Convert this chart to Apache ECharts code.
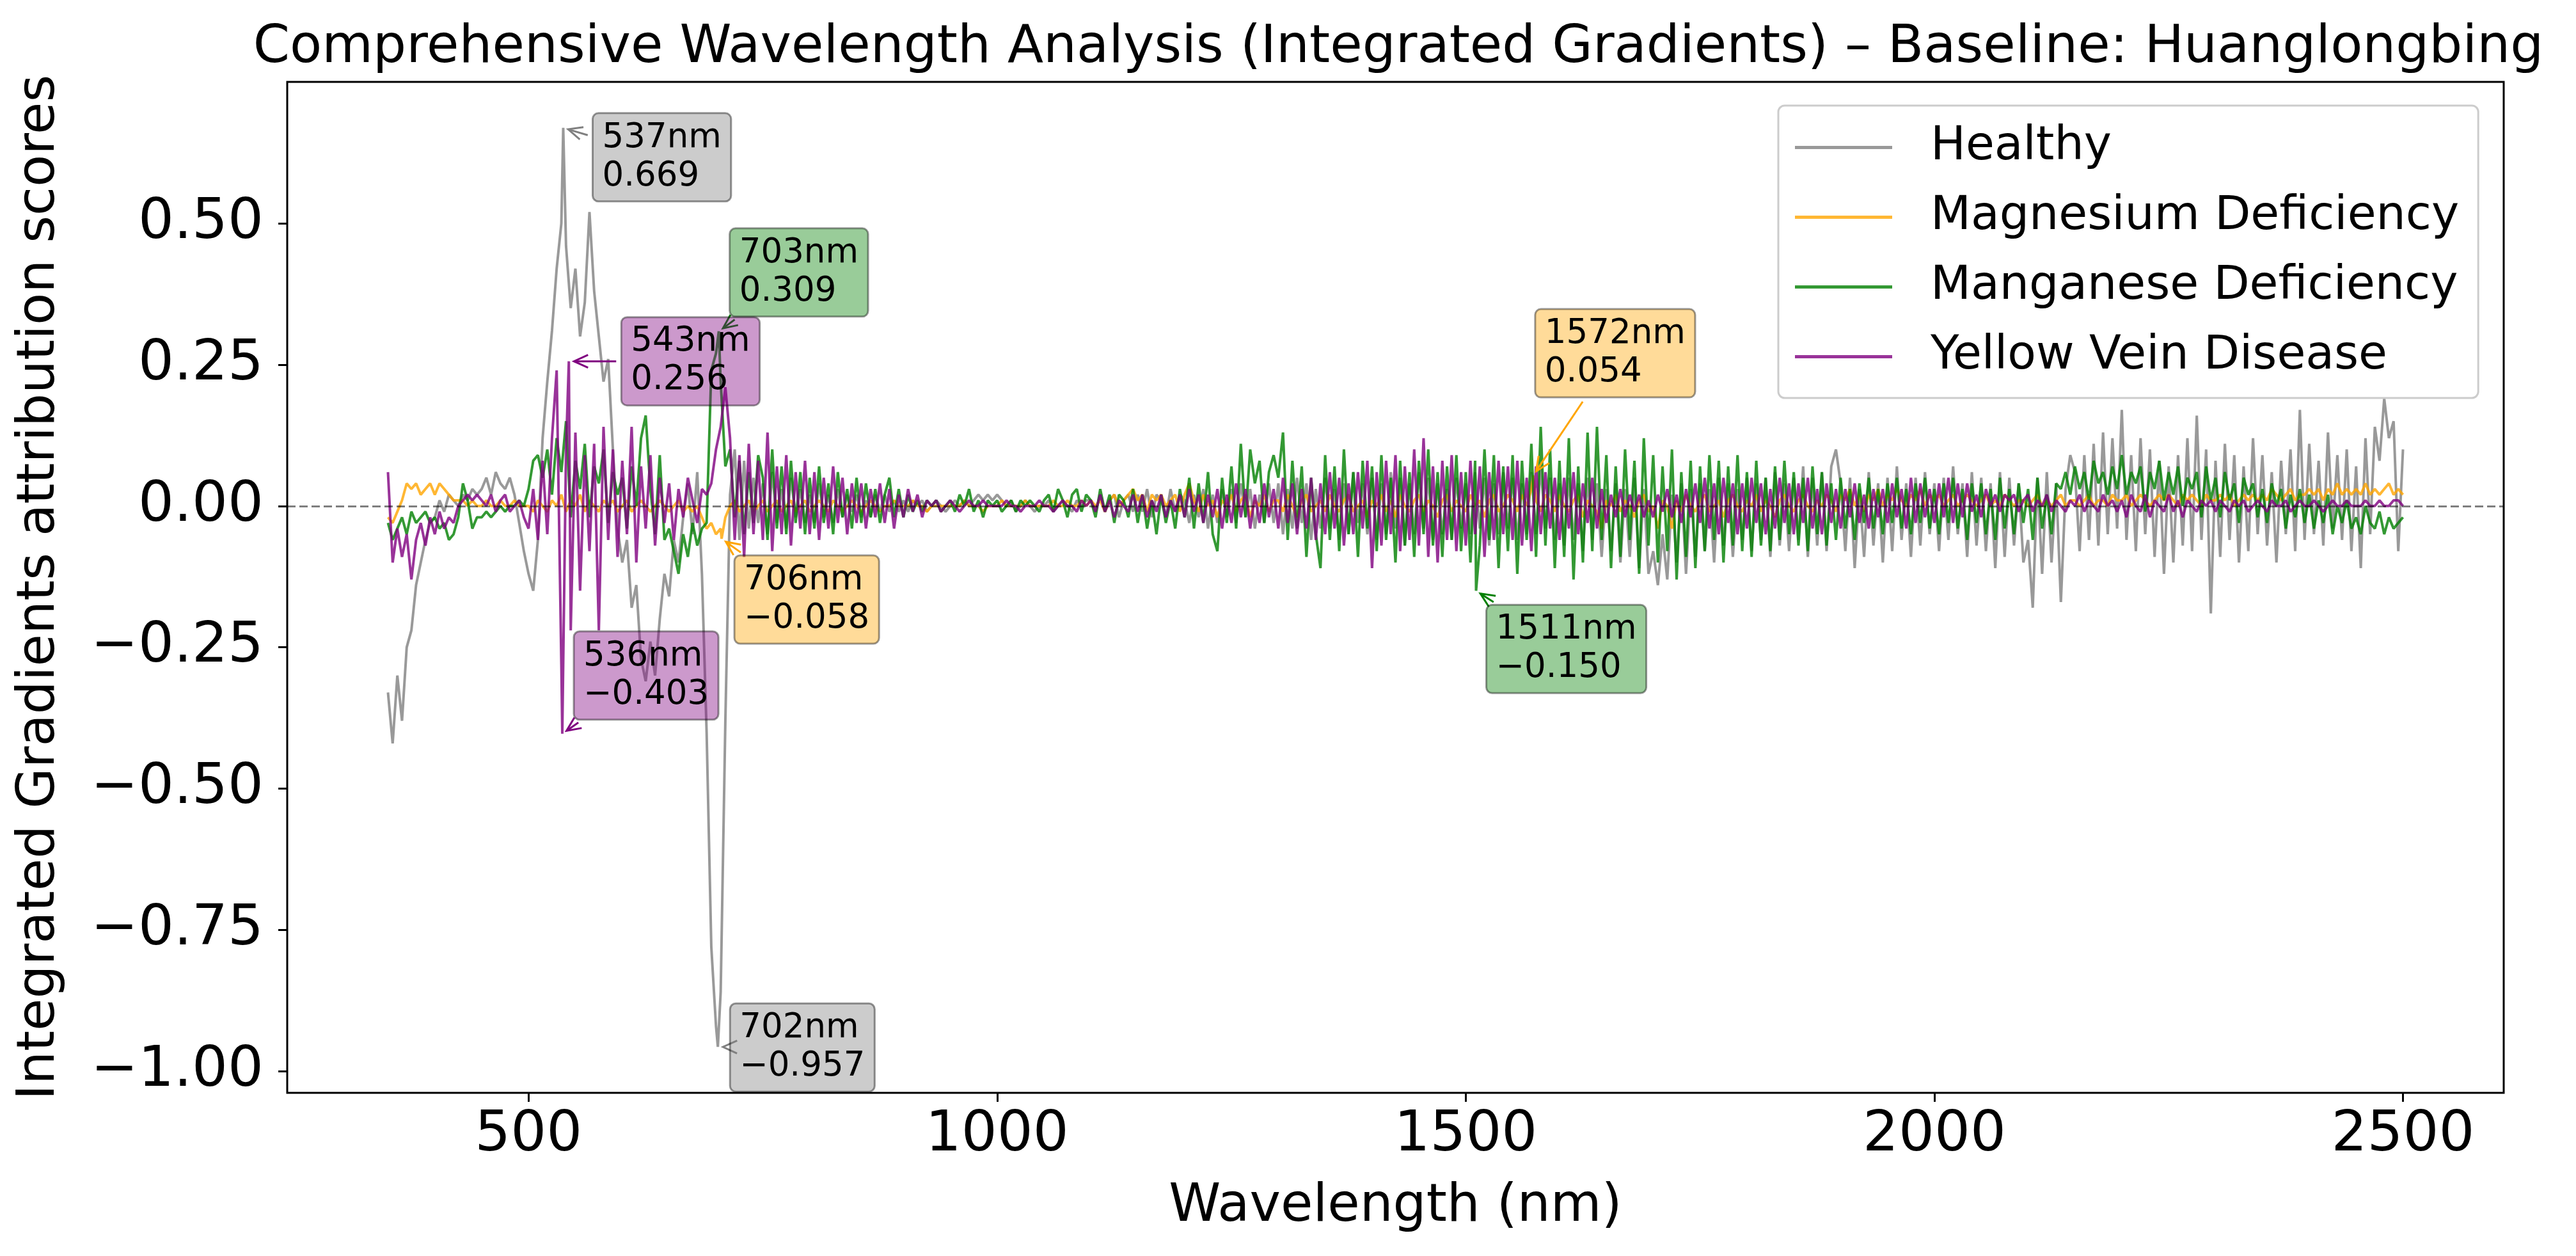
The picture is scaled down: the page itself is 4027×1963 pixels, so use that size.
<!DOCTYPE html>
<html><head><meta charset="utf-8">
<script src="https://cdn.jsdelivr.net/npm/echarts@6/dist/echarts.min.js"></script>
<style>html,body{margin:0;padding:0;background:#fff}#chart{width:4027px;height:1963px}</style>
</head><body><div id="chart"></div>
<script>
// ---------------- DATA ----------------
const wavelengths = [];
for (let w = 350; w <= 2500; w += 5) wavelengths.push(w);

const healthy = [
-0.33,-0.42,-0.30,-0.38,-0.25,-0.22,-0.14,-0.10,-0.06,-0.03,
-0.02,0.01,-0.01,0.02,0.01,0.00,0.02,0.01,0.03,0.02,
0.03,0.05,0.02,0.06,0.04,0.03,0.05,0.02,-0.03,-0.08,
-0.12,-0.15,-0.06,0.12,0.22,0.31,0.42,0.50,0.46,0.35,
0.42,0.30,0.36,0.52,0.38,0.30,0.22,0.26,0.10,-0.04,
-0.10,-0.06,-0.18,-0.14,-0.27,-0.31,-0.24,-0.30,-0.20,-0.12,
-0.16,-0.06,-0.10,-0.02,0.04,-0.05,0.06,-0.12,-0.40,-0.78,
-0.92,-0.86,-0.38,0.02,0.10,-0.06,0.08,-0.04,0.05,-0.03,
0.04,-0.05,0.06,-0.03,0.03,-0.04,0.05,-0.02,0.03,-0.03,
0.02,-0.03,0.04,-0.02,0.02,-0.03,0.03,-0.02,0.02,-0.01,
0.02,-0.02,0.01,-0.02,0.02,-0.01,0.02,-0.01,0.01,-0.01,
0.01,-0.01,0.01,0.00,0.01,-0.01,0.00,0.01,0.00,-0.01,
0.00,0.01,0.00,0.01,0.00,0.01,0.02,0.01,0.02,0.01,
0.02,0.01,0.00,0.01,-0.01,0.00,0.01,0.00,-0.01,0.00,
0.00,0.01,-0.01,0.00,0.01,0.00,-0.01,0.01,0.00,0.01,
0.01,-0.01,0.02,-0.01,0.01,0.02,-0.02,0.01,0.02,-0.01,
0.02,-0.01,0.03,-0.02,0.02,0.01,-0.02,0.03,-0.01,0.02,
0.01,-0.03,0.02,-0.02,0.03,-0.04,0.02,-0.03,0.03,-0.02,
0.03,-0.03,0.04,-0.02,0.03,-0.04,0.02,-0.03,0.04,-0.03,
0.04,-0.05,0.03,-0.04,0.05,-0.03,0.04,-0.06,0.03,-0.04,
0.05,-0.04,0.03,-0.06,0.04,-0.05,0.06,-0.03,0.04,-0.05,
0.05,-0.06,0.04,-0.05,0.06,-0.04,0.05,-0.07,0.04,-0.05,
0.06,-0.04,0.05,-0.06,0.04,-0.05,0.03,-0.06,0.05,-0.04,
0.04,-0.05,0.06,-0.04,0.05,-0.07,0.04,-0.05,0.06,-0.04,
0.05,-0.06,0.04,-0.05,0.06,-0.05,0.07,-0.04,0.05,-0.06,
0.04,-0.07,0.05,-0.06,0.04,-0.08,0.05,-0.06,0.04,-0.09,
0.03,-0.08,0.04,-0.10,0.03,-0.09,0.05,-0.11,0.03,-0.12,
-0.08,-0.14,-0.05,-0.13,0.02,-0.10,0.04,-0.12,0.03,-0.09,
0.04,-0.08,0.03,-0.10,0.05,-0.07,0.04,-0.09,0.03,-0.06,
0.05,-0.08,0.04,-0.06,0.05,-0.09,0.06,-0.07,0.04,-0.08,
0.05,-0.06,0.07,-0.09,0.05,-0.07,0.06,-0.08,0.07,0.10,
0.04,-0.08,0.05,-0.11,0.03,-0.09,0.06,-0.07,0.04,-0.10,
0.05,-0.08,0.07,-0.06,0.04,-0.09,0.05,-0.07,0.06,-0.05,
0.04,-0.08,0.05,-0.06,0.07,-0.05,0.04,-0.09,0.06,-0.07,
0.05,-0.08,0.04,-0.11,0.06,-0.09,0.05,-0.07,0.04,-0.10,
-0.06,-0.18,0.05,-0.12,0.06,-0.10,0.04,-0.17,0.03,0.09,
0.06,-0.08,0.09,-0.06,0.11,-0.07,0.13,-0.05,0.12,-0.04,
0.17,-0.06,0.09,-0.08,0.12,-0.05,0.10,-0.09,0.08,-0.12,
0.07,-0.10,0.09,-0.07,0.12,-0.08,0.16,-0.06,0.10,-0.19,
0.08,-0.09,0.11,-0.06,0.09,-0.10,0.07,-0.08,0.12,-0.05,
0.09,-0.07,0.06,-0.10,0.08,-0.05,0.10,-0.08,0.17,-0.06,
0.11,-0.05,0.08,-0.07,0.13,-0.04,0.09,-0.06,0.10,-0.08,
0.07,-0.11,0.12,-0.05,0.14,0.08,0.19,0.12,0.15,-0.08,
0.10
];

const magnesium = [
-0.02,-0.03,-0.01,0.01,0.04,0.03,0.04,0.02,0.03,0.04,
0.02,0.04,0.03,0.02,0.01,0.01,0.01,0.00,0.01,0.00,
0.00,0.01,0.00,0.00,0.01,0.00,0.00,0.01,0.00,0.00,
0.00,-0.01,0.01,0.00,-0.01,0.01,0.00,0.02,-0.01,0.01,
0.00,0.02,-0.01,0.01,0.00,-0.01,0.01,0.00,0.01,-0.01,
0.00,0.01,-0.01,0.00,0.01,0.00,-0.01,0.00,0.01,0.00,
-0.01,0.00,0.01,-0.01,0.00,-0.01,0.00,-0.02,-0.04,-0.03,
-0.05,-0.04,-0.02,0.00,0.01,-0.01,0.00,0.01,-0.01,0.00,
0.01,-0.01,0.00,0.01,-0.01,0.00,0.01,-0.01,0.00,0.01,
-0.01,0.00,0.01,0.00,-0.01,0.01,0.00,-0.01,0.00,0.01,
0.00,-0.01,0.00,0.01,0.00,-0.01,0.00,0.00,0.01,0.00,
0.00,0.00,0.01,0.00,0.00,-0.01,0.00,0.00,0.00,0.00,
0.00,0.00,0.00,0.01,0.00,0.00,0.00,-0.01,0.00,0.00,
0.00,0.01,0.00,0.00,0.00,0.00,0.01,0.00,0.00,0.00,
0.00,0.00,0.01,0.00,0.00,0.01,0.00,0.00,0.01,0.00,
0.01,0.00,0.01,-0.01,0.01,0.02,0.00,0.01,0.02,0.03,
0.01,0.02,-0.01,0.02,0.01,0.02,0.00,0.01,0.02,-0.01,
0.02,0.04,0.01,-0.01,0.02,0.00,0.01,-0.02,0.01,0.00,
0.02,-0.01,0.01,0.02,-0.02,0.01,0.00,0.02,-0.01,0.01,
0.01,-0.01,0.02,0.00,-0.02,0.01,0.02,-0.01,0.00,0.01,
-0.01,0.02,0.00,-0.01,0.01,0.02,-0.01,0.00,0.01,-0.02,
0.01,0.00,0.02,-0.01,0.01,-0.02,0.02,0.00,-0.01,0.01,
0.02,-0.01,0.01,0.00,-0.02,0.01,0.02,-0.01,0.01,0.00,
-0.01,0.02,0.00,0.01,-0.02,0.01,0.02,-0.01,0.00,0.02,
0.01,-0.01,0.02,0.00,0.03,0.01,-0.01,0.02,0.01,-0.01,
0.02,0.00,-0.01,0.01,0.02,-0.02,0.01,0.00,-0.01,-0.04,
0.01,0.00,0.02,-0.01,0.01,0.00,-0.02,0.01,0.02,-0.01,
0.00,-0.04,0.01,0.00,-0.04,0.01,-0.01,0.02,0.00,-0.01,
0.01,0.02,-0.01,0.00,0.01,-0.02,0.01,0.02,0.00,-0.01,
0.01,0.00,0.02,-0.01,0.01,0.00,-0.02,0.01,0.02,0.00,
-0.01,0.01,0.02,0.00,-0.01,0.01,0.00,0.02,0.01,-0.01,
0.02,0.01,0.03,0.00,0.02,-0.01,0.02,0.01,0.03,0.00,
0.02,0.01,0.03,0.01,0.00,0.02,0.01,0.03,0.00,0.02,
0.01,0.02,0.00,0.01,0.02,0.00,0.01,0.02,0.01,0.00,
0.01,0.02,0.00,0.01,0.00,0.02,0.01,0.00,0.01,0.01,
0.00,0.01,0.02,0.00,0.01,0.00,0.01,0.02,0.00,0.01,
0.01,0.00,0.01,0.02,0.00,0.01,0.01,0.00,0.02,0.01,
0.01,0.02,0.00,0.01,0.02,0.01,0.00,0.01,0.02,0.01,
0.02,0.01,0.00,0.02,0.01,0.02,0.01,0.00,0.02,0.01,
0.01,0.02,0.01,0.02,0.00,0.01,0.02,0.01,0.02,0.01,
0.02,0.01,0.03,0.02,0.01,0.02,0.03,0.01,0.02,0.02,
0.03,0.02,0.03,0.01,0.03,0.02,0.04,0.02,0.03,0.02,
0.03,0.02,0.04,0.02,0.03,0.02,0.03,0.04,0.02,0.03,
0.02
];

const manganese = [
-0.03,-0.06,-0.04,-0.02,-0.05,-0.01,-0.03,-0.02,-0.01,-0.03,
-0.02,-0.04,-0.03,-0.06,-0.05,-0.02,0.04,0.01,-0.04,-0.02,
-0.02,-0.01,-0.02,-0.01,0.00,-0.01,0.00,0.00,0.01,0.00,
0.03,0.08,0.09,0.05,0.10,0.02,0.12,0.06,0.15,-0.02,
0.08,0.03,0.11,-0.02,0.07,0.04,0.10,-0.03,0.06,0.02,
0.05,-0.04,0.07,0.00,0.12,0.16,0.03,-0.05,0.09,-0.06,
-0.04,-0.08,-0.12,-0.05,-0.09,-0.03,-0.07,-0.04,-0.03,0.24,
0.27,0.22,0.07,0.10,-0.02,0.08,-0.05,0.06,-0.03,0.09,
0.05,-0.06,0.10,-0.04,0.07,-0.05,0.08,-0.03,0.06,-0.05,
0.05,-0.04,0.07,-0.03,0.04,-0.05,0.06,-0.02,0.03,-0.04,
0.05,-0.03,0.04,-0.02,0.03,-0.03,0.02,0.05,-0.02,0.03,
-0.02,0.02,-0.01,0.01,-0.01,0.01,0.00,0.01,-0.01,0.00,
0.01,-0.01,0.02,0.00,0.03,-0.01,0.01,-0.02,0.01,0.00,
0.01,-0.01,0.00,0.01,-0.01,0.01,0.00,0.01,0.00,-0.01,
0.01,0.02,-0.01,0.03,0.01,-0.02,0.02,0.03,-0.01,0.02,
0.01,-0.02,0.03,-0.01,0.02,-0.03,0.02,0.01,-0.02,0.03,
-0.03,0.02,-0.04,0.01,-0.05,0.02,-0.03,0.01,-0.04,0.03,
-0.02,0.05,-0.04,0.04,-0.03,0.06,-0.05,-0.08,0.05,-0.03,
0.07,-0.04,0.11,-0.02,0.10,0.04,0.08,-0.03,0.06,0.09,
0.05,0.13,-0.06,0.08,-0.04,0.07,-0.09,0.05,-0.05,-0.11,
0.09,-0.06,0.07,-0.08,0.10,-0.05,0.06,-0.09,0.08,-0.04,
0.07,-0.08,0.09,-0.06,0.05,-0.10,0.08,-0.07,0.06,-0.09,
0.08,-0.05,0.10,-0.07,0.06,-0.09,0.07,-0.06,0.09,-0.08,
0.06,-0.10,0.08,-0.07,0.10,-0.06,0.09,-0.11,0.07,-0.08,
0.09,-0.12,0.08,-0.06,0.11,-0.09,0.14,-0.07,0.10,-0.11,
0.08,-0.09,0.12,-0.13,0.07,-0.10,0.13,-0.08,0.14,-0.06,
0.09,-0.11,0.07,-0.09,0.10,-0.06,0.08,-0.12,0.12,-0.07,
0.09,-0.10,0.07,-0.08,0.10,-0.13,0.06,-0.09,0.08,-0.11,
0.07,-0.08,0.09,-0.06,0.08,-0.10,0.07,-0.07,0.09,-0.08,
0.06,-0.09,0.08,-0.07,0.05,-0.08,0.07,-0.06,0.08,-0.05,
0.06,-0.07,0.05,-0.08,0.07,-0.05,0.06,-0.07,0.04,-0.06,
0.05,-0.04,0.03,-0.06,0.04,-0.03,0.05,-0.04,0.03,-0.05,
0.04,-0.03,0.05,-0.04,0.03,-0.05,0.04,-0.03,0.05,-0.04,
0.03,-0.05,0.04,-0.03,0.05,-0.04,0.03,-0.06,0.04,-0.03,
0.04,-0.05,0.03,-0.06,0.05,-0.04,0.03,-0.05,0.04,-0.03,
0.03,-0.06,0.05,-0.04,0.02,-0.05,0.04,0.03,0.06,0.02,
0.07,0.03,0.06,0.01,0.08,0.04,0.06,0.02,0.07,0.03,
0.09,0.02,0.06,0.04,0.07,-0.01,0.06,0.03,0.08,0.01,
0.06,0.02,0.07,0.00,0.05,0.03,0.06,-0.02,0.07,0.01,
0.05,-0.02,0.06,0.01,0.04,-0.03,0.05,0.02,0.04,-0.02,
0.03,-0.03,0.04,0.00,0.03,-0.04,0.02,-0.02,0.03,-0.03,
0.02,-0.04,0.01,-0.03,0.02,-0.05,0.00,-0.03,0.01,-0.04,
-0.02,-0.05,0.00,-0.03,-0.04,-0.01,-0.05,-0.02,-0.04,-0.03,
-0.02
];

const yellowVein = [
0.06,-0.10,-0.04,-0.09,-0.05,-0.13,-0.06,-0.03,-0.07,-0.02,
-0.05,-0.01,-0.04,-0.02,-0.03,0.00,0.01,0.02,0.01,0.02,
0.01,0.00,0.02,-0.01,0.01,0.02,-0.01,0.00,0.01,-0.02,
-0.04,0.03,-0.06,0.08,-0.05,0.12,0.24,-0.28,0.10,-0.22,
0.13,-0.15,0.09,-0.08,0.11,-0.22,0.14,-0.06,0.10,-0.09,
0.08,-0.05,0.14,-0.10,0.07,-0.04,0.09,-0.07,0.05,-0.03,
0.04,-0.06,0.03,-0.02,0.05,0.01,-0.03,0.03,0.02,0.04,
0.10,0.14,0.21,0.12,-0.06,0.09,-0.09,0.11,-0.05,0.08,
-0.06,0.13,-0.08,0.07,-0.05,0.09,-0.07,0.06,-0.04,0.08,
-0.05,0.06,-0.06,0.05,-0.04,0.07,-0.03,0.05,-0.05,0.04,
-0.03,0.04,-0.04,0.03,-0.02,0.04,-0.03,0.03,-0.04,0.02,
-0.02,0.03,-0.01,0.02,-0.02,0.01,0.00,0.01,-0.01,0.00,
0.01,0.00,-0.01,0.00,0.01,0.00,0.00,0.01,0.00,0.00,
0.00,0.00,0.01,0.00,0.00,-0.01,0.00,0.00,0.00,0.01,
0.00,0.00,-0.01,0.00,0.01,0.00,0.00,-0.01,0.01,0.00,
0.01,-0.01,0.02,-0.01,0.01,-0.02,0.01,0.00,-0.01,0.02,
-0.01,0.02,-0.02,0.01,-0.01,0.02,-0.02,0.01,-0.01,0.02,
-0.02,0.03,-0.01,0.02,-0.03,0.02,-0.02,0.03,-0.04,0.02,
-0.03,0.04,-0.02,0.03,-0.04,0.02,-0.03,0.04,-0.02,0.03,
-0.04,0.05,-0.03,0.04,-0.05,0.03,-0.04,0.05,-0.06,0.04,
-0.05,0.06,-0.04,0.05,-0.07,0.04,-0.05,0.06,-0.04,0.08,
-0.11,0.06,-0.07,0.08,-0.05,0.09,-0.08,0.07,-0.06,0.10,
-0.07,0.12,-0.09,0.07,-0.10,0.08,-0.06,0.09,-0.08,0.06,
-0.07,0.08,-0.05,0.07,-0.09,0.06,-0.06,0.08,-0.05,0.07,
-0.06,0.08,-0.07,0.05,-0.08,0.07,-0.05,0.06,-0.04,0.05,
-0.06,0.05,-0.04,0.06,-0.05,0.04,-0.03,0.05,-0.04,0.03,
-0.03,0.02,-0.02,0.03,-0.02,0.02,-0.01,0.02,-0.02,0.01,
-0.02,0.02,-0.01,0.03,-0.02,0.02,-0.03,0.03,-0.02,0.04,
-0.03,0.05,-0.04,0.04,-0.05,0.05,-0.03,0.04,-0.05,0.04,
-0.04,0.05,-0.03,0.04,-0.05,0.03,-0.04,0.05,-0.03,0.04,
-0.05,0.04,-0.03,0.05,-0.04,0.03,-0.05,0.04,-0.03,0.03,
-0.04,0.03,-0.02,0.04,-0.03,0.02,-0.04,0.03,-0.02,0.03,
-0.03,0.04,-0.02,0.03,-0.04,0.05,-0.03,0.04,-0.02,0.03,
-0.03,0.04,-0.02,0.05,-0.03,0.04,-0.02,0.04,-0.01,0.02,
-0.02,0.03,0.00,0.02,-0.01,0.02,0.01,0.02,-0.01,0.01,
0.02,-0.01,0.01,0.00,0.02,-0.01,0.01,0.00,-0.01,0.01,
0.00,0.02,-0.01,0.01,0.00,-0.01,0.02,0.00,0.01,-0.01,
0.01,-0.02,0.02,0.00,-0.01,0.02,-0.02,0.01,0.00,-0.01,
0.02,-0.01,0.01,-0.02,0.01,0.00,-0.01,0.01,0.00,0.01,
-0.01,0.01,0.00,-0.01,0.01,0.00,0.01,-0.01,0.00,0.01,
0.00,-0.01,0.01,0.00,0.00,0.01,-0.01,0.00,0.01,0.00,
0.00,0.01,0.00,-0.01,0.00,0.01,0.00,0.00,0.01,0.00,
0.00,0.00,0.01,0.00,0.00,0.01,0.00,0.00,0.01,0.01,
0.00
];

const seriesNames = ['Healthy', 'Magnesium Deficiency', 'Manganese Deficiency', 'Yellow Vein Disease'];
const seriesValues = [healthy, magnesium, manganese, yellowVein];

// annotated extremes (series index, wavelength, value)
const annSeries = [0, 0, 1, 1, 2, 2, 3, 3];
const annNm     = [537, 702, 706, 1572, 703, 1511, 543, 536];
const annValue  = [0.669, -0.957, -0.058, 0.054, 0.309, -0.150, 0.256, -0.403];

const xTicks = [500, 1000, 1500, 2000, 2500];
const yTicks = [-1.00, -0.75, -0.50, -0.25, 0.00, 0.25, 0.50];

// ---------------- STYLE / LAYOUT ----------------
const FONT = 'DejaVu Sans';
const baseRGB = [[128,128,128],[255,165,0],[0,128,0],[128,0,128]];
const rgba = (c, a) => `rgba(${c[0]},${c[1]},${c[2]},${a})`;
// annotation box top-left offset from the annotated point (px)
const annBoxOffset = [[46,-23],[19,-68],[20,26],[3,-260],[17,-161],[16,22],[82,-69],[18,-160]];
const ANN_FS = 53, ANN_LH = 60, ANN_PADX = 15, ANN_PADY = 9;

function buildPairs(si) {
  const vals = seriesValues[si];
  const pts = [];
  const n = Math.min(vals.length, wavelengths.length);
  for (let i = 0; i < n; i++) pts.push([wavelengths[i], vals[i]]);
  annSeries.forEach((s, k) => { if (s === si) pts.push([annNm[k], annValue[k]]); });
  pts.sort((a, b) => a[0] - b[0]);
  return pts;
}

const fmtY = v => { const s = v.toFixed(2); return s.replace('-', '\u2212'); };
const fmtX = v => String(Math.round(v));
const fmtVal = v => (v < 0 ? '\u2212' : '') + Math.abs(v).toFixed(3);

const chart = echarts.init(document.getElementById('chart'), null, { renderer: 'canvas', width: 4027, height: 1963 });

const option = {
  animation: false,
  backgroundColor: '#ffffff',
  title: {
    text: 'Comprehensive Wavelength Analysis (Integrated Gradients) \u2013 Baseline: Huanglongbing',
    left: 2181, top: 30, textAlign: 'center',
    textStyle: { fontFamily: FONT, fontSize: 82, fontWeight: 'normal', color: '#000' }
  },
  legend: {
    orient: 'vertical', left: 2780, top: 165,
    data: seriesNames, icon: 'rect', itemWidth: 152, itemHeight: 5, itemGap: 36,
    padding: [29, 30, 28, 26],
    backgroundColor: 'rgba(255,255,255,0.8)', borderColor: '#cccccc', borderWidth: 3, borderRadius: 10,
    textStyle: { fontFamily: FONT, fontSize: 73, color: '#000', lineHeight: 73, padding: [0, 0, 0, 55] }
  },
  grid: { left: 449, right: 113, top: 128, bottom: 255, show: true, borderColor: '#000', borderWidth: 3, backgroundColor: 'transparent' },
  xAxis: {
    type: 'value', min: 242.5, max: 2607.5,
    axisLine: { show: false, onZero: false },
    splitLine: { show: false },
    axisTick: { show: true, length: 14, lineStyle: { color: '#000', width: 3 }, customValues: xTicks },
    axisLabel: { customValues: xTicks, formatter: fmtX, fontFamily: FONT, fontSize: 88, color: '#000', margin: 23 },
    name: 'Wavelength (nm)', nameLocation: 'middle', nameGap: 138,
    nameTextStyle: { fontFamily: FONT, fontSize: 82, color: '#000' }
  },
  yAxis: {
    type: 'value', min: -1.0383, max: 0.7503,
    axisLine: { show: false },
    splitLine: { show: false },
    axisTick: { show: true, length: 14, lineStyle: { color: '#000', width: 3 }, customValues: yTicks },
    axisLabel: { customValues: yTicks, formatter: fmtY, fontFamily: FONT, fontSize: 88, color: '#000', margin: 37 },
    name: 'Integrated Gradients attribution scores', nameLocation: 'middle', nameGap: 345,
    nameTextStyle: { fontFamily: FONT, fontSize: 82, color: '#000' }
  },
  series: seriesNames.map((name, i) => {
    const s = {
      name, type: 'line', data: buildPairs(i),
      symbol: 'none', showSymbol: false, silent: true,
      lineStyle: { color: rgba(baseRGB[i], 1), width: 4, opacity: 0.8 },
      itemStyle: { color: rgba(baseRGB[i], 1), opacity: 0.8 },
      emphasis: { disabled: true }
    };
    if (i === seriesNames.length - 1) {
      s.markLine = {
        silent: true, symbol: ['none', 'none'], label: { show: false },
        lineStyle: { color: '#000', opacity: 0.5, type: [13, 6], width: 3 },
        data: [{ yAxis: 0 }]
      };
    }
    return s;
  })
};
chart.setOption(option);

// ---------------- ANNOTATIONS ----------------
const ctx = document.createElement('canvas').getContext('2d');
ctx.font = `${ANN_FS}px "${FONT}"`;
const graphics = [];
annNm.forEach((nm, k) => {
  const si = annSeries[k], val = annValue[k];
  const [px, py] = chart.convertToPixel({ xAxisIndex: 0, yAxisIndex: 0 }, [nm, val]);
  const l1 = nm + 'nm', l2 = fmtVal(val);
  const w = Math.max(ctx.measureText(l1).width, ctx.measureText(l2).width) + 2 * ANN_PADX;
  const h = 2 * ANN_LH + 2 * ANN_PADY;
  const bx = px + annBoxOffset[k][0], by = py + annBoxOffset[k][1];
  const cx = bx + w / 2, cy = by + h / 2;
  const dx = px - cx, dy = py - cy;
  const tx = dx !== 0 ? (w / 2) / Math.abs(dx) : Infinity;
  const ty = dy !== 0 ? (h / 2) / Math.abs(dy) : Infinity;
  const t = Math.min(tx, ty, 1);
  let sx = cx + dx * t, sy = cy + dy * t;
  const len = Math.hypot(px - sx, py - sy);
  const ux = (px - sx) / len, uy = (py - sy) / len;
  const shrink = 8;
  sx += ux * shrink; sy += uy * shrink;
  const ex = px - ux * shrink, ey = py - uy * shrink;
  const HL = 22, HW = 10, nx = -uy, ny = ux;
  const col = rgba(baseRGB[si], 1);
  graphics.push({
    type: 'polyline', z: 100, silent: true,
    shape: { points: [[sx, sy], [ex, ey]] },
    style: { stroke: col, lineWidth: 3, fill: null }
  });
  graphics.push({
    type: 'polyline', z: 100, silent: true,
    shape: { points: [[ex - ux * HL + nx * HW, ey - uy * HL + ny * HW], [ex, ey], [ex - ux * HL - nx * HW, ey - uy * HL - ny * HW]] },
    style: { stroke: col, lineWidth: 3, fill: null }
  });
  graphics.push({
    type: 'rect', z: 101, silent: true,
    shape: { x: bx, y: by, width: w, height: h, r: 9 },
    style: { fill: rgba(baseRGB[si], 0.4), stroke: 'rgba(0,0,0,0.4)', lineWidth: 3 }
  });
  [l1, l2].forEach((txt, j) => {
    graphics.push({
      type: 'text', z: 102, silent: true,
      x: bx + ANN_PADX, y: by + ANN_PADY + ANN_LH * (j + 0.5),
      style: { text: txt, fill: '#000', font: `${ANN_FS}px "${FONT}"`, textAlign: 'left', textVerticalAlign: 'middle' }
    });
  });
});
chart.setOption({ graphic: graphics });
</script>
</body></html>
